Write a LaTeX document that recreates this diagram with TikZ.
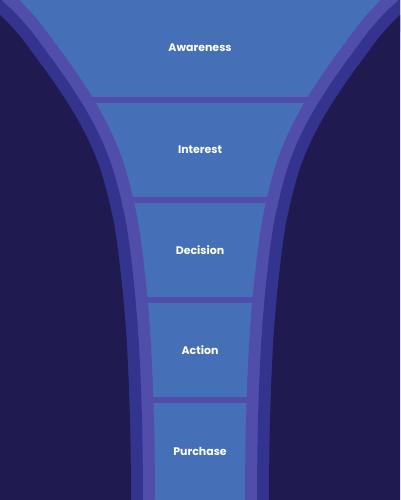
\documentclass[tikz,border=0pt]{standalone}
\usepackage{fontspec}
\setmainfont{Poppins}
\definecolor{navy}{HTML}{1F1A50}
\definecolor{bandA}{HTML}{34348F}
\definecolor{bandB}{HTML}{504EAA}
\definecolor{stage}{HTML}{4570B8}
\newcommand\blobdraw[1]{\path[#1,line join=round] plot[smooth,tension=0.6] coordinates {(-80,-50) (0,15) (40,63) (75,115) (97,160) (110,205) (118,250) (126,330) (130,420) (131,500) (131,540)} -- (-100,540) -- (-100,-50) -- cycle;}
\begin{document}
\begin{tikzpicture}[x=1pt,y=-1pt,
  lbl/.style={text=white,font=\bfseries\fontsize{11}{13}\selectfont},
  sep/.style={fill=bandB}]
\useasboundingbox (0,0) rectangle (400,500);
\clip (0,0) rectangle (400,500);
\fill[stage] (0,0) rectangle (400,500);
\foreach \y in {100,200,300,400} \fill[sep] (0,\y-3) rectangle (400,\y+3);
\begin{scope}
  \blobdraw{draw=bandB,line width=48pt}
  \blobdraw{draw=bandA,line width=24pt}
  \blobdraw{fill=navy}
\end{scope}
\begin{scope}[xshift=400pt,xscale=-1]
  \blobdraw{draw=bandB,line width=48pt}
  \blobdraw{draw=bandA,line width=24pt}
  \blobdraw{fill=navy}
\end{scope}
\node[lbl] (aw) at (200,48) {Awareness};
\node[lbl] (in) at (200,150) {Interest};
\node[lbl] (de) at (200,250) {Decision};
\node[lbl] (ac) at (200,350) {Action};
\node[lbl] (pu) at (200,451) {Purchase};
\end{tikzpicture}
\end{document}
